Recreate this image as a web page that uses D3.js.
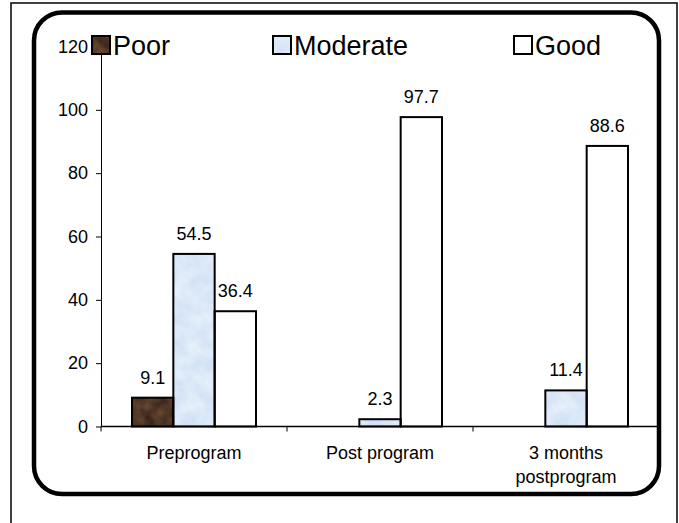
<!DOCTYPE html>
<html>
<head>
<meta charset="utf-8">
<script src="https://cdn.jsdelivr.net/npm/d3@7"></script>
<style>
  html, body { margin: 0; padding: 0; background: #fff; }
  svg { display: block; font-family: "Liberation Sans", Arial, sans-serif; }
</style>
</head>
<body>
<svg id="chart" width="679" height="523"></svg>
<script>
// Knowledge level of participants across the three assessment points (%)
const categories = ["Preprogram", "Post program", "3 months postprogram"];
const categoryLines = [["Preprogram"], ["Post program"], ["3 months", "postprogram"]];
const seriesNames = ["Poor", "Moderate", "Good"];
const poorValues = [9.1, 0, 0];
const moderateValues = [54.5, 2.3, 11.4];
const goodValues = [36.4, 97.7, 88.6];
const yTicks = [0, 20, 40, 60, 80, 100, 120];

const seriesValues = [poorValues, moderateValues, goodValues];

const svg = d3.select("#chart");
const FONT = 18;

// Textured fills: brown mottle, pale-blue mottle, plain white
const defs = svg.append("defs");
function mottle(id, rows, freq, seed) {
  const f = defs.append("filter").attr("id", id)
    .attr("x", 0).attr("y", 0).attr("width", 1).attr("height", 1)
    .attr("color-interpolation-filters", "sRGB");
  f.append("feTurbulence").attr("type", "fractalNoise")
    .attr("baseFrequency", freq).attr("numOctaves", 3).attr("seed", seed).attr("result", "n");
  f.append("feColorMatrix").attr("in", "n").attr("type", "matrix")
    .attr("values", rows).attr("result", "c");
  f.append("feComposite").attr("in", "c").attr("in2", "SourceGraphic").attr("operator", "in");
}
mottle("texPoor",
  "0.30 0 0 0 0.16  0.22 0 0 0 0.10  0.15 0 0 0 0.07  0 0 0 0 1", 0.09, 3);
mottle("texModerate",
  "0.14 0 0 0 0.79  0.10 0 0 0 0.86  0.04 0 0 0 0.95  0 0 0 0 1", 0.07, 7);
const fills = [
  { fill: "#4b3222", filter: "url(#texPoor)" },
  { fill: "#dce9f7", filter: "url(#texModerate)" },
  { fill: "#ffffff", filter: null }
];

// Outer thin frame and rounded chart border
svg.append("rect").attr("x", 11).attr("y", 3).attr("width", 666).attr("height", 540)
  .attr("fill", "none").attr("stroke", "#000").attr("stroke-width", 1.5);
svg.append("rect").attr("x", 34).attr("y", 12.5).attr("width", 625).attr("height", 481.5)
  .attr("rx", 28).attr("ry", 28)
  .attr("fill", "none").attr("stroke", "#000").attr("stroke-width", 4.5);

// Scales
const x0 = d3.scaleBand().domain(categories).range([101, 659]).paddingInner(0).paddingOuter(0);
const x1 = d3.scaleBand().domain(seriesNames).range([0, x0.bandwidth()])
  .paddingInner(0).paddingOuter(0.75);
const y = d3.scaleLinear().domain([0, 120]).range([426.5, 46.5]);

// Y axis
const yAxis = d3.axisLeft(y).tickValues(yTicks).tickSize(5).tickSizeOuter(0).tickPadding(8);
const yg = svg.append("g").attr("transform", "translate(101,0)").call(yAxis);
yg.select(".domain").attr("stroke", "#000");
yg.selectAll(".tick line").attr("stroke", "#000");
yg.selectAll(".tick text").attr("font-size", FONT).attr("fill", "#000")
  .attr("font-family", "Liberation Sans, Arial, sans-serif");

// Bars
const groups = svg.append("g").selectAll("g")
  .data(categories).join("g")
  .attr("transform", c => `translate(${x0(c)},0)`);

groups.each(function (c, ci) {
  const g = d3.select(this);
  const items = seriesNames.map((s, si) => ({ s, si, v: seriesValues[si][ci] }))
    .filter(d => d.v > 0);
  // texture fill
  g.selectAll("rect.fill").data(items).join("rect").attr("class", "fill")
    .attr("x", d => x1(d.s)).attr("width", x1.bandwidth())
    .attr("y", d => y(d.v)).attr("height", d => y(0) - y(d.v))
    .attr("fill", d => fills[d.si].fill)
    .attr("filter", d => fills[d.si].filter);
  // outline
  g.selectAll("rect.edge").data(items).join("rect").attr("class", "edge")
    .attr("x", d => x1(d.s)).attr("width", x1.bandwidth())
    .attr("y", d => y(d.v)).attr("height", d => y(0) - y(d.v))
    .attr("fill", "none").attr("stroke", "#000").attr("stroke-width", 2);
  // value labels
  g.selectAll("text.val").data(items).join("text").attr("class", "val")
    .attr("x", d => x1(d.s) + x1.bandwidth() / 2)
    .attr("y", d => y(d.v) - 14)
    .attr("text-anchor", "middle").attr("font-size", FONT).attr("fill", "#000")
    .text(d => d.v.toFixed(1));
});

// X axis line with ticks at category boundaries
const baseY = y(0);
svg.append("line").attr("x1", x0.range()[0]).attr("x2", x0.range()[1])
  .attr("y1", baseY).attr("y2", baseY).attr("stroke", "#000").attr("stroke-width", 1.5);
const bounds = categories.map(c => x0(c)).concat([x0.range()[1]]);
svg.append("g").selectAll("line").data(bounds).join("line")
  .attr("x1", d => d).attr("x2", d => d)
  .attr("y1", baseY).attr("y2", baseY + 5).attr("stroke", "#000");

// Category labels
categories.forEach((c, ci) => {
  const t = svg.append("text")
    .attr("x", x0(c) + x0.bandwidth() / 2).attr("y", 459)
    .attr("text-anchor", "middle").attr("font-size", FONT).attr("fill", "#000");
  categoryLines[ci].forEach((line, li) => {
    t.append("tspan").attr("x", x0(c) + x0.bandwidth() / 2)
      .attr("dy", li === 0 ? 0 : 24).text(line);
  });
});

// Legend
const legendX = [92, 273, 514];
const legend = svg.append("g").selectAll("g").data(seriesNames).join("g")
  .attr("transform", (d, i) => `translate(${legendX[i]},36)`);
legend.append("rect").attr("width", 18).attr("height", 18)
  .attr("fill", (d, i) => fills[i].fill).attr("filter", (d, i) => fills[i].filter);
legend.append("rect").attr("width", 18).attr("height", 18)
  .attr("fill", "none").attr("stroke", "#000").attr("stroke-width", 2);
legend.append("text").attr("x", 21).attr("y", 19)
  .attr("font-size", 27).attr("fill", "#000").text(d => d);
</script>
</body>
</html>
